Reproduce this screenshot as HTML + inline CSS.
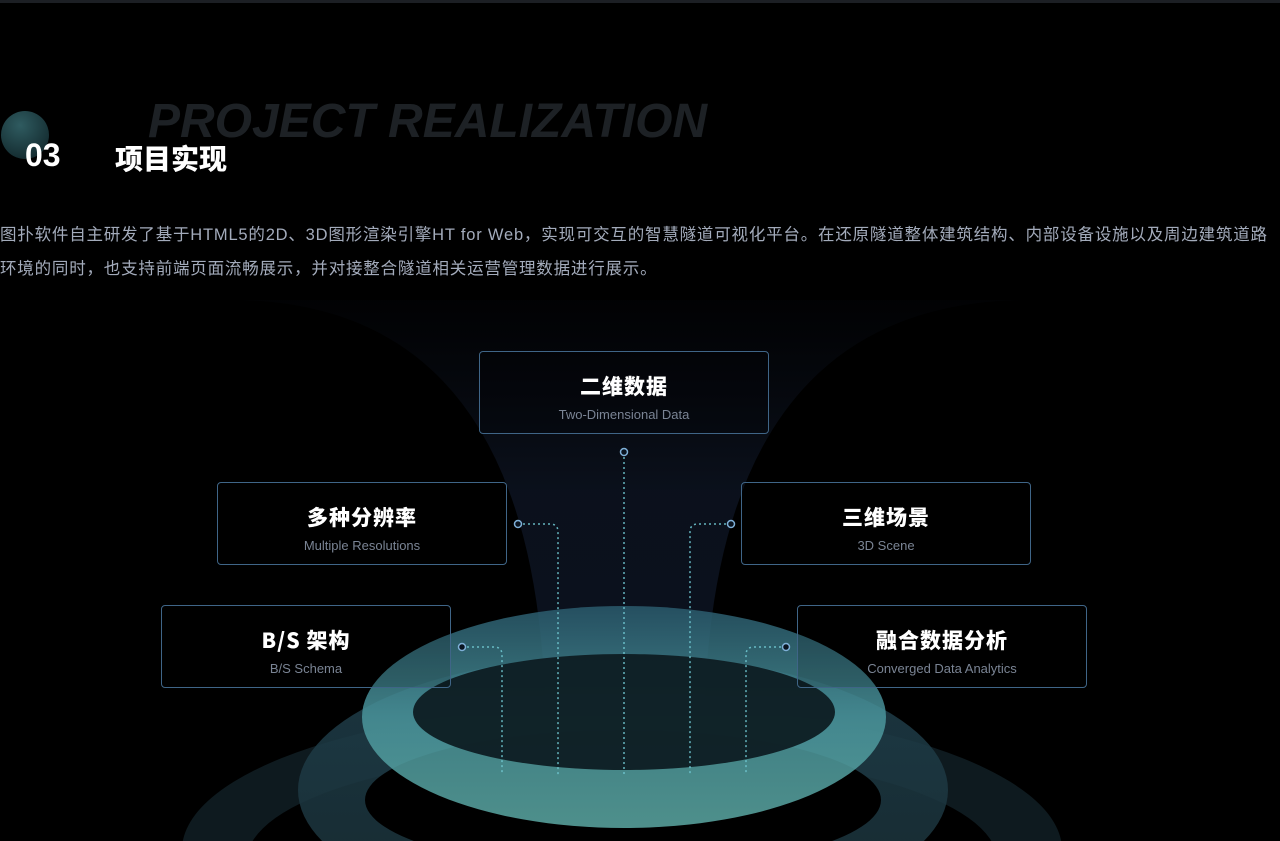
<!DOCTYPE html>
<html><head><meta charset="utf-8"><style>
html,body{margin:0;width:1280px;height:841px;overflow:hidden}
body{background:#000;position:relative;font-family:"Liberation Sans","Noto Sans CJK SC",sans-serif}
.t{position:absolute;white-space:nowrap}
.box{position:absolute;width:290px;height:83px;border:1px solid #3f6587;border-radius:4px;box-sizing:border-box;text-align:center;background:rgba(0,0,0,0.15)}
.box b{display:block;color:#fff;font-size:21px;margin-top:19px;letter-spacing:1px;font-family:"Noto Sans CJK SC",sans-serif;font-weight:900}
.box span{display:block;color:#7a8494;font-size:13px;margin-top:6px}
</style></head><body>
<div style="position:absolute;left:0;top:0;width:1280px;height:3px;background:#1c1f24"></div>
<div style="position:absolute;left:1px;top:111px;width:48px;height:48px;border-radius:50%;background:radial-gradient(circle at 40% 30%,#2f5b60,#0c1e22)"></div>
<div class="t" style="left:148px;top:94px;font-size:48px;font-weight:bold;font-style:italic;color:#1d2125">PROJECT REALIZATION</div>
<div class="t" style="left:25px;top:137px;font-size:32px;font-weight:900;color:#fff">03</div>
<div class="t" style="left:115px;top:138px;font-size:28px;font-weight:900;color:#fff;font-family:'Noto Sans CJK SC',sans-serif">项目实现</div>
<div class="t" style="left:0;top:218px;font-size:16.5px;color:#a3abbb;line-height:34px;letter-spacing:0.8px">图扑软件自主研发了基于HTML5的2D、3D图形渲染引擎HT for Web，实现可交互的智慧隧道可视化平台。在还原隧道整体建筑结构、内部设备设施以及周边建筑道路<br>环境的同时，也支持前端页面流畅展示，并对接整合隧道相关运营管理数据进行展示。</div>
<svg width="1280" height="841" style="position:absolute;left:0;top:0">
<defs>
<linearGradient id="beam" x1="0" y1="0" x2="0" y2="1"><stop offset="0" stop-color="#0e1524" stop-opacity="0.1"/><stop offset="0.4" stop-color="#111a2c" stop-opacity="0.7"/><stop offset="1" stop-color="#0b1220"/></linearGradient>
<linearGradient id="r1" x1="0" y1="0" x2="0" y2="1"><stop offset="0" stop-color="#2a5a6c"/><stop offset="0.5" stop-color="#4a959c"/><stop offset="1" stop-color="#5ca9a4"/></linearGradient>
<linearGradient id="r2" x1="0" y1="0" x2="0" y2="1"><stop offset="0" stop-color="#1f3f4c"/><stop offset="1" stop-color="#1b3138"/></linearGradient>
</defs>
<path d="M230 300 Q560 300 545 780 L705 780 Q690 300 1030 300 Z" fill="url(#beam)" opacity="0.9"/>
<ellipse cx="622" cy="850" rx="440" ry="145" fill="#0f1d22" opacity="0.9"/>
<ellipse cx="622" cy="860" rx="375" ry="110" fill="#000"/>
<ellipse cx="623" cy="790" rx="325" ry="135" fill="url(#r2)" opacity="0.85"/>
<ellipse cx="623" cy="800" rx="258" ry="70" fill="#000"/>
<ellipse cx="624" cy="717" rx="262" ry="111" fill="url(#r1)" opacity="0.85"/>
<ellipse cx="624" cy="712" rx="211" ry="58" fill="#0c1a20" opacity="0.92"/>
<g stroke="#6fc6d0" stroke-width="1.5" stroke-dasharray="2 3" fill="none" opacity="0.9">
<line x1="624" y1="457" x2="624" y2="775"/>
<path d="M523 524 H550 Q558 524 558 532 V775"/>
<path d="M726 524 H698 Q690 524 690 532 V775"/>
<path d="M467 647 H494 Q502 647 502 655 V775"/>
<path d="M781 647 H754 Q746 647 746 655 V775"/>
</g>
<g fill="#0a1420" stroke="#7fb0d8" stroke-width="1.5">
<circle cx="624" cy="452" r="3.5"/><circle cx="518" cy="524" r="3.5"/><circle cx="731" cy="524" r="3.5"/><circle cx="462" cy="647" r="3.5"/><circle cx="786" cy="647" r="3.5"/>
</g>
</svg>
<div class="box" style="left:479px;top:351px"><b>二维数据</b><span>Two-Dimensional Data</span></div>
<div class="box" style="left:217px;top:482px"><b>多种分辨率</b><span>Multiple Resolutions</span></div>
<div class="box" style="left:741px;top:482px"><b>三维场景</b><span>3D Scene</span></div>
<div class="box" style="left:161px;top:605px"><b>B/S 架构</b><span>B/S Schema</span></div>
<div class="box" style="left:797px;top:605px"><b>融合数据分析</b><span>Converged Data Analytics</span></div>
</body></html>
